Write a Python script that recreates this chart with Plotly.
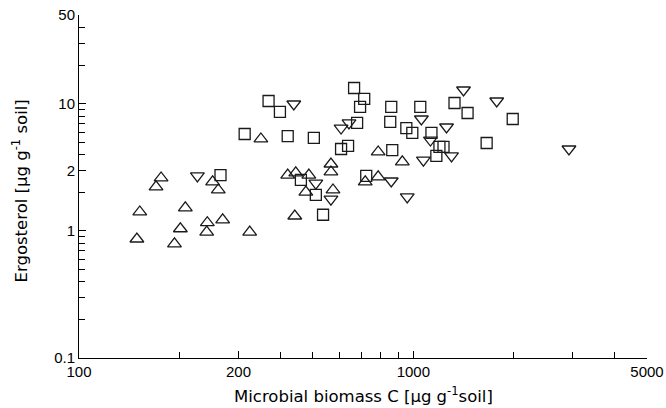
import plotly.graph_objects as go

# Upward triangles
tri_up_x = [149, 152, 170, 176, 193, 201, 208, 241, 242, 269, 324, 251, 261, 350,
            421, 445, 487, 477, 442, 567, 567, 575, 718, 785, 785, 927]
tri_up_y = [0.864, 1.41, 2.22, 2.61, 0.79, 1.04, 1.52, 0.98, 1.16, 1.22, 0.98, 2.43, 2.10, 5.29,
            2.75, 2.86, 2.75, 2.02, 1.31, 3.36, 2.91, 2.10, 2.43, 2.66, 4.18, 3.49]

# Downward triangles
tri_dn_x = [226, 439, 511, 567, 608, 642, 859, 959, 1057, 1072, 1125, 1257, 1301, 1413, 1776, 2921]
tri_dn_y = [2.71, 9.97, 2.38, 1.78, 6.45, 7.07, 2.47, 1.85, 7.60, 3.61, 5.19, 6.57, 3.89, 12.85, 10.53, 4.41]

# Squares
sq_x = [265, 369, 399, 313, 421, 504, 461, 511, 537, 608, 638, 665, 713, 693, 679,
        859, 853, 1049, 953, 993, 1133, 865, 723, 1172, 1197, 1231, 1328, 1453, 1983, 1657]
sq_y = [2.75, 10.53, 8.63, 5.79, 5.58, 5.39, 2.52, 1.92, 1.34, 4.41, 4.66, 13.32, 10.92, 9.45, 7.07,
        9.45, 7.20, 9.45, 6.45, 5.90, 5.90, 4.33, 2.71, 3.89, 4.58, 4.58, 10.15, 8.47, 7.60, 4.92]

x_tickvals = [100, 300, 1000, 5000]
x_ticktext = ["100", "200", "1000", "5000"]
y_tickvals = [0.1, 1, 3, 10, 50]
y_ticktext = ["0.1", "1", "2", "10", "50"]

line_col = "#1a1a1a"
fig = go.Figure()
fig.add_trace(go.Scatter(x=tri_up_x, y=tri_up_y, mode="markers",
                         marker=dict(symbol="triangle-up-open", size=12, color=line_col,
                                     line=dict(width=1.3, color=line_col))))
fig.add_trace(go.Scatter(x=tri_dn_x, y=tri_dn_y, mode="markers",
                         marker=dict(symbol="triangle-down-open", size=12, color=line_col,
                                     line=dict(width=1.3, color=line_col))))
fig.add_trace(go.Scatter(x=sq_x, y=sq_y, mode="markers",
                         marker=dict(symbol="square-open", size=11, color=line_col,
                                     line=dict(width=1.3, color=line_col))))

font_fam = "Liberation Sans, Arial, Helvetica, sans-serif"
title_fam = "DejaVu Sans, Liberation Sans, sans-serif"
fig.update_layout(
    width=666, height=408,
    margin=dict(l=79, r=19, t=15, b=50, autoexpand=False),
    paper_bgcolor="white", plot_bgcolor="white",
    showlegend=False,
    font=dict(family=font_fam, size=15, color="black"),
    xaxis=dict(type="log", range=[2, 3.69897], showgrid=False, zeroline=False,
               showline=True, linecolor="black", linewidth=1, automargin=False,
               ticks="inside", ticklen=7, tickcolor="black",
               tickvals=x_tickvals, ticktext=x_ticktext,
               tickfont=dict(size=15, color="black"),
               minor=dict(ticks="inside", ticklen=6, dtick="D1", tickcolor="black", showgrid=False)),
    yaxis=dict(type="log", range=[-1, 1.69897], showgrid=False, zeroline=False,
               showline=True, linecolor="black", linewidth=1, automargin=False,
               ticks="inside", ticklen=7, tickcolor="black",
               tickvals=y_tickvals, ticktext=y_ticktext,
               tickfont=dict(size=15, color="black"),
               minor=dict(ticks="inside", ticklen=6, dtick="D1", tickcolor="black", showgrid=False)),
    annotations=[
        dict(text="Ergosterol [µg g<sup>-1</sup> soil]", xref="paper", yref="paper",
             x=0, y=0.5, xanchor="center", yanchor="middle", xshift=-59, yshift=-5,
             textangle=-90, showarrow=False, font=dict(size=16.5, family=title_fam, color="black")),
        dict(text="Microbial biomass C [µg g<sup>-1</sup>soil]", xref="paper", yref="paper",
             x=0.5, y=0, xanchor="center", yanchor="middle", yshift=-37, xshift=0,
             showarrow=False, font=dict(size=16.5, family=title_fam, color="black")),
    ],
)
fig.write_html("out.html", config={"displayModeBar": False},
               post_script="document.body.style.margin='0px';")
